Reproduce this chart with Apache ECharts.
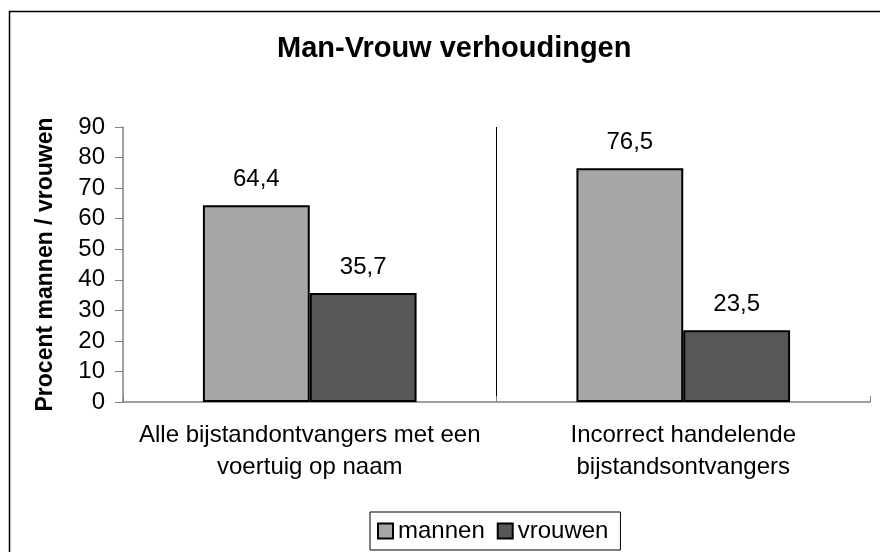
<!DOCTYPE html>
<html>
<head>
<meta charset="utf-8">
<script src="https://cdn.jsdelivr.net/npm/echarts@6/dist/echarts.min.js"></script>
<style>
  html, body { margin: 0; padding: 0; background: #fff; }
  #chart { width: 880px; height: 552px; }
</style>
</head>
<body>
<div id="chart"></div>
<script>
// categorieen en waarden (procent)
var categories = ['Alle bijstandontvangers met een\nvoertuig op naam', 'Incorrect handelende\nbijstandsontvangers'];
var mannen = [64.4, 76.5];
var vrouwen = [35.7, 23.5];

var font = 'Liberation Sans, Arial, sans-serif';
var comma = function(p){ return String(p.value).replace('.', ','); };

var myChart = echarts.init(document.getElementById('chart'));
var option = {
    backgroundColor: '#fff',
    animation: false,
    title: {
        text: 'Man-Vrouw verhoudingen',
        left: 277,
        top: 34,
        padding: 0,
        textStyle: { fontFamily: font, fontSize: 29, fontWeight: 'bold', color: '#000' }
    },
    graphic: [{
        type: 'rect',
        shape: { x: 9.5, y: 11.5, width: 900, height: 600 },
        style: { fill: 'none', stroke: '#000', lineWidth: 1.5 },
        silent: true
    }],
    legend: {
        data: ['mannen', 'vrouwen'],
        icon: 'rect',
        bottom: 2,
        left: 370,
        itemWidth: 15,
        itemHeight: 15,
        itemGap: 12,
        padding: [7, 12, 7, 7],
        borderColor: '#000',
        borderWidth: 1,
        textStyle: { fontFamily: font, fontSize: 24, color: '#000' }
    },
    grid: { left: 123, right: 10, top: 127, bottom: 150, containLabel: false },
    xAxis: {
        type: 'category',
        data: categories,
        axisLine: { lineStyle: { color: '#808080', width: 1.5 } },
        axisTick: { show: true, inside: true, length: 6, lineStyle: { color: '#808080' } },
        splitLine: {
            show: true,
            showMinLine: false,
            showMaxLine: false,
            lineStyle: { color: '#000', width: 1 }
        },
        axisLabel: {
            fontFamily: font, fontSize: 24, color: '#000',
            lineHeight: 32, margin: 17, interval: 0
        }
    },
    yAxis: {
        type: 'value',
        min: 0,
        max: 90,
        interval: 10,
        name: 'Procent mannen / vrouwen',
        nameLocation: 'middle',
        nameGap: 66,
        nameRotate: 90,
        nameTextStyle: { fontFamily: font, fontSize: 23, fontWeight: 'bold', color: '#000' },
        axisLine: { show: true, lineStyle: { color: '#808080', width: 1.5 } },
        axisTick: { show: true, length: 8, lineStyle: { color: '#808080' } },
        splitLine: { show: false },
        axisLabel: { fontFamily: font, fontSize: 24, color: '#000', margin: 18 }
    },
    series: [
        {
            name: 'mannen',
            type: 'bar',
            data: mannen,
            barGap: '0%',
            barCategoryGap: '42.8%',
            itemStyle: { color: '#a6a6a6', borderColor: '#000', borderWidth: 2 },
            label: { show: true, position: 'top', distance: 14, formatter: comma,
                     fontFamily: font, fontSize: 24, color: '#000' }
        },
        {
            name: 'vrouwen',
            type: 'bar',
            data: vrouwen,
            itemStyle: { color: '#575757', borderColor: '#000', borderWidth: 2 },
            label: { show: true, position: 'top', distance: 14, formatter: comma,
                     fontFamily: font, fontSize: 24, color: '#000' }
        }
    ]
};
myChart.setOption(option);
</script>
</body>
</html>
